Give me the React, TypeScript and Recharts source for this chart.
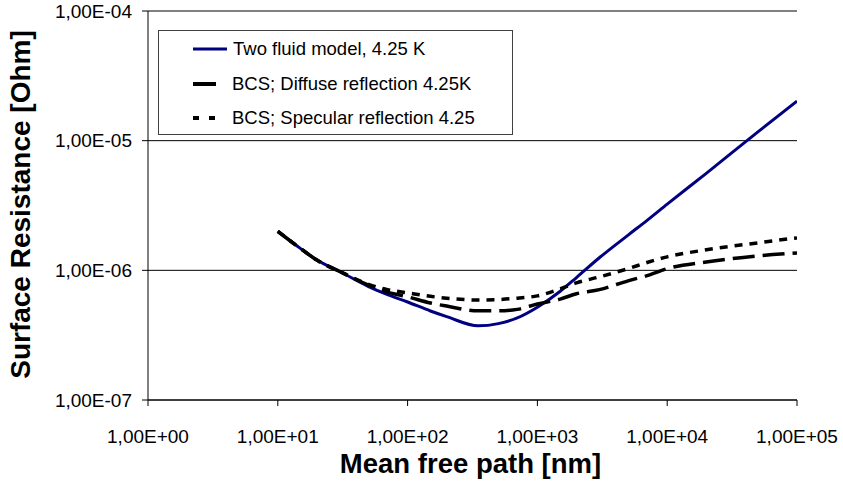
import React from 'react';
import { LineChart, Line, XAxis, YAxis, CartesianGrid, ReferenceLine, Legend, Label } from 'recharts';

// Mean free path [nm]
const meanFreePath = [10, 15, 20, 30, 50, 70, 100, 150, 200, 350, 500, 700, 1000, 1500, 2000, 3000, 5000, 7000, 10000, 20000, 50000, 100000];
// Surface resistance [Ohm]
const twoFluid = [2.0e-6, 1.47e-6, 1.2e-6, 9.8e-7, 7.5e-7, 6.5e-7, 5.7e-7, 4.86e-7, 4.4e-7, 3.73e-7, 3.88e-7, 4.3e-7, 5.2e-7, 6.9e-7, 8.8e-7, 1.25e-6, 1.87e-6, 2.43e-6, 3.24e-6, 5.6e-6, 1.17e-5, 2.02e-5];
const bcsDiffuse = [2.0e-6, 1.47e-6, 1.2e-6, 9.8e-7, 7.7e-7, 6.8e-7, 6.25e-7, 5.6e-7, 5.3e-7, 4.87e-7, 4.87e-7, 5.0e-7, 5.5e-7, 6.0e-7, 6.6e-7, 7.1e-7, 8.3e-7, 9.1e-7, 1.03e-6, 1.16e-6, 1.29e-6, 1.36e-6];
const bcsSpecular = [2.0e-6, 1.47e-6, 1.2e-6, 9.8e-7, 7.8e-7, 7.1e-7, 6.7e-7, 6.3e-7, 6.1e-7, 5.9e-7, 5.95e-7, 6.1e-7, 6.35e-7, 7.2e-7, 8.0e-7, 8.9e-7, 1.03e-6, 1.15e-6, 1.27e-6, 1.44e-6, 1.63e-6, 1.78e-6];

const xTicks = [1, 10, 100, 1000, 10000, 100000];
const xTickLabels = ['1,00E+00', '1,00E+01', '1,00E+02', '1,00E+03', '1,00E+04', '1,00E+05'];
const yTicks = [1e-7, 1e-6, 1e-5, 1e-4];
const yTickLabels = ['1,00E-07', '1,00E-06', '1,00E-05', '1,00E-04'];

const seriesNames = ['Two fluid model, 4.25 K', 'BCS; Diffuse reflection 4.25K', 'BCS; Specular reflection 4.25'];

const data = meanFreePath.map((x, i) => ({
  x,
  twoFluid: twoFluid[i],
  diffuse: bcsDiffuse[i],
  specular: bcsSpecular[i],
}));

const FONT = '"Liberation Sans", Arial, Helvetica, sans-serif';

const fmtX = (v: number) => {
  const i = xTicks.findIndex((t) => Math.abs(Math.log10(t) - Math.log10(v)) < 1e-6);
  return i >= 0 ? xTickLabels[i] : '';
};
const fmtY = (v: number) => {
  const i = yTicks.findIndex((t) => Math.abs(Math.log10(t) - Math.log10(v)) < 1e-6);
  return i >= 0 ? yTickLabels[i] : '';
};

const legendSamples = [
  { stroke: '#000080', dash: undefined as string | undefined, width: 3, x2: 34 },
  { stroke: '#000', dash: undefined as string | undefined, width: 4, x2: 23 },
  { stroke: '#000', dash: '6 10', width: 4, x2: 22 },
];

const renderLegend = () => (
  <div
    style={{
      width: 353,
      height: 103,
      border: '1px solid #404040',
      background: '#fff',
      fontFamily: FONT,
      fontSize: 18.5,
      color: '#000',
      position: 'relative',
      boxSizing: 'content-box',
    }}
  >
    {seriesNames.map((name, i) => {
      const cy = 18 + i * 34.5;
      const s = legendSamples[i];
      return (
        <div key={name} style={{ position: 'absolute', left: 0, top: cy - 12, height: 24, width: 353 }}>
          <svg width={40} height={24} style={{ position: 'absolute', left: 34, top: 0 }}>
            <line x1={0} y1={12} x2={s.x2} y2={12} stroke={s.stroke} strokeWidth={s.width} strokeDasharray={s.dash} />
          </svg>
          <span style={{ position: 'absolute', left: i === 0 ? 74 : 73, top: 12, transform: 'translateY(-50%)', whiteSpace: 'nowrap', lineHeight: '20px' }}>
            {name}
          </span>
        </div>
      );
    })}
  </div>
);

const YTitle = (props: any) => {
  const vb = props.viewBox || { x: 0, y: 11, width: 148, height: 389 };
  const cx = 29.5;
  const cy = vb.y + vb.height / 2 - 1;
  return (
    <text
      x={cx}
      y={cy}
      transform={`rotate(-90 ${cx} ${cy})`}
      textAnchor="middle"
      fontFamily={FONT}
      fontSize={28}
      fontWeight="bold"
      fill="#000"
    >
      Surface Resistance [Ohm]
    </text>
  );
};

const XTitle = (props: any) => {
  const vb = props.viewBox || { x: 148, y: 400, width: 649, height: 87 };
  const cx = vb.x + vb.width / 2 - 2;
  return (
    <text x={cx} y={473} textAnchor="middle" fontFamily={FONT} fontSize={27.5} fontWeight="bold" fill="#000">
      Mean free path [nm]
    </text>
  );
};

export default function App() {
  return (
    <div style={{ position: 'absolute', left: 0, top: 0, width: 843, height: 487, background: '#fff' }}>
      <LineChart width={843} height={487} data={data} margin={{ top: 11, right: 46, bottom: 0, left: 0 }}>
        <CartesianGrid vertical={false} stroke="#000" strokeWidth={1} />
        <ReferenceLine y={1e-4} stroke="#808080" strokeWidth={1.5} />
        <XAxis
          dataKey="x"
          type="number"
          scale="log"
          domain={[1, 100000]}
          ticks={xTicks}
          tickFormatter={fmtX}
          allowDataOverflow
          height={87}
          tickSize={6}
          tickMargin={24}
          axisLine={{ stroke: '#000', strokeWidth: 1 }}
          tickLine={{ stroke: '#000', strokeWidth: 1 }}
          tick={{ fill: '#000', fontSize: 19, fontFamily: FONT }}
          interval={0}
        >
          <Label content={<XTitle />} />
        </XAxis>
        <YAxis
          type="number"
          scale="log"
          domain={[1e-7, 1e-4]}
          ticks={yTicks}
          tickFormatter={fmtY}
          allowDataOverflow
          width={148}
          tickSize={6}
          tickMargin={10}
          axisLine={{ stroke: '#000', strokeWidth: 1 }}
          tickLine={{ stroke: '#000', strokeWidth: 1 }}
          tick={{ fill: '#000', fontSize: 19, fontFamily: FONT }}
          interval={0}
        >
          <Label content={<YTitle />} />
        </YAxis>
        <Legend
          layout="horizontal"
          verticalAlign="middle"
          align="center"
          content={renderLegend}
          wrapperStyle={{ position: 'absolute', left: 158, top: 30, width: 355, height: 105 }}
        />
        <Line
          type="monotone"
          dataKey="twoFluid"
          name={seriesNames[0]}
          stroke="#000080"
          strokeWidth={3}
          dot={false}
          activeDot={false}
          isAnimationActive={false}
        />
        <Line
          type="monotone"
          dataKey="diffuse"
          name={seriesNames[1]}
          stroke="#000"
          strokeWidth={3.5}
          strokeDasharray="22 8"
          dot={false}
          activeDot={false}
          isAnimationActive={false}
        />
        <Line
          type="monotone"
          dataKey="specular"
          name={seriesNames[2]}
          stroke="#000"
          strokeWidth={3.5}
          strokeDasharray="8 7"
          dot={false}
          activeDot={false}
          isAnimationActive={false}
        />
      </LineChart>
    </div>
  );
}
